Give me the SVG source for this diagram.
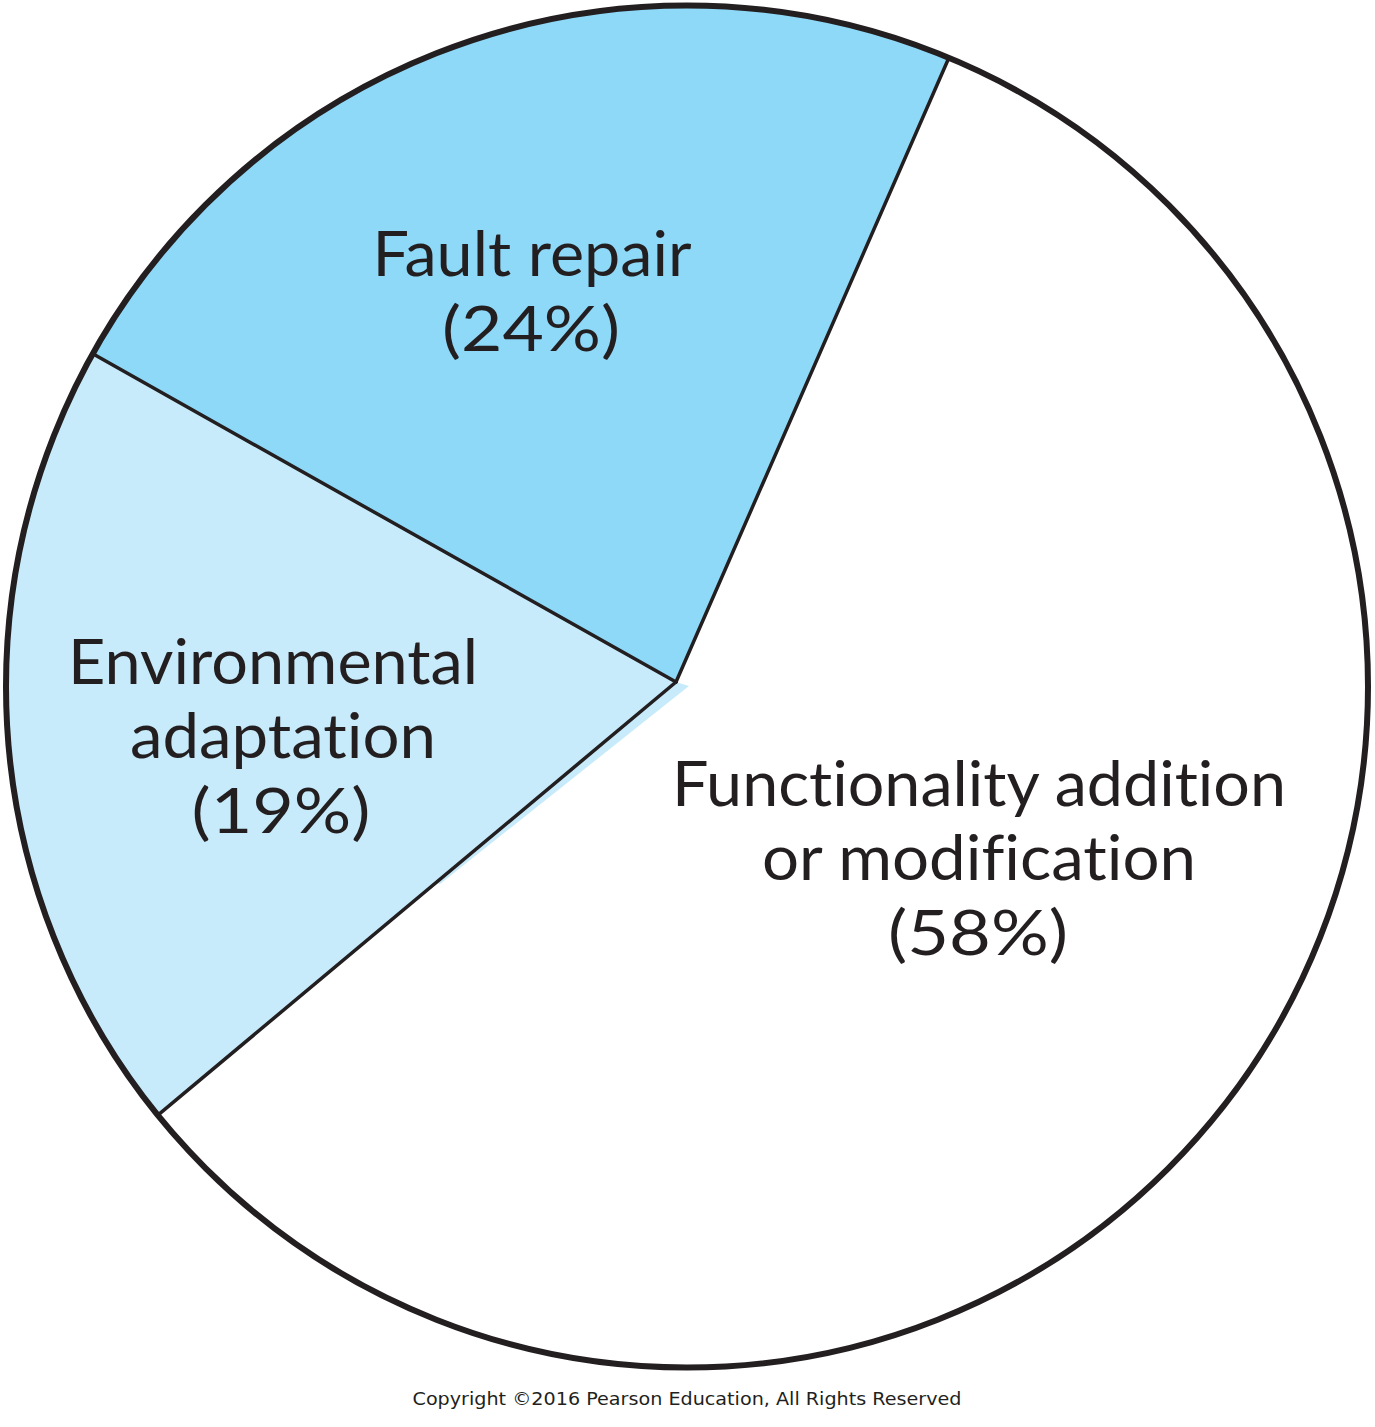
<svg xmlns="http://www.w3.org/2000/svg" width="1375" height="1427" viewBox="0 0 1375 1427">
<style>
.lbl{font-family:Lato,"Open Sans","Liberation Sans",sans-serif;font-size:62px;fill:#231f20;text-anchor:middle;font-variant-ligatures:none;font-feature-settings:"liga" 0,"dlig" 0}
.copy{font-family:"DejaVu Sans","Liberation Sans",sans-serif;font-size:18px;fill:#231f20;text-anchor:middle}
.div{stroke:#231f20;stroke-width:3.5;fill:none;stroke-linecap:round}
</style>
<rect x="0" y="0" width="1375" height="1427" fill="#ffffff"/>
<g id="functionality">
<circle cx="687" cy="686.5" r="681" fill="#ffffff"/>
<text class="lbl" x="979" y="806" textLength="614" lengthAdjust="spacingAndGlyphs">Functionality addition</text>
<text class="lbl" x="979" y="880" textLength="434" lengthAdjust="spacingAndGlyphs">or modification</text>
<text class="lbl" x="978" y="955" textLength="180" lengthAdjust="spacingAndGlyphs">(58%)</text>
</g>
<g id="fault-repair">
<path d="M676,682 L92.8,353.8 A681,681 0 0 1 948.9,57.8 Z" fill="#8ed8f8"/>
<text class="lbl" x="532" y="276" textLength="319" lengthAdjust="spacingAndGlyphs">Fault repair</text>
<text class="lbl" x="531" y="351" textLength="178" lengthAdjust="spacingAndGlyphs">(24%)</text>
</g>
<g id="environmental">
<path d="M676,682 L157.9,1115.1 A681,681 0 0 1 92.8,353.8 Z" fill="#c8ebfb"/>
<polygon points="676,682 689,686 440,884 432,882" fill="#c8ebfb"/>
<text class="lbl" x="273" y="684" textLength="410" lengthAdjust="spacingAndGlyphs">Environmental</text>
<text class="lbl" x="283" y="758" textLength="306" lengthAdjust="spacingAndGlyphs">adaptation</text>
<text class="lbl" x="281" y="833" textLength="179" lengthAdjust="spacingAndGlyphs">(19%)</text>
</g>
<g id="connectors">
<line class="div" x1="676" y1="682" x2="948.9" y2="57.8"/>
<line class="div" x1="676" y1="682" x2="92.8" y2="353.8"/>
<line class="div" x1="676" y1="682" x2="157.9" y2="1115.1"/>
<circle cx="687" cy="686.5" r="681" fill="none" stroke="#231f20" stroke-width="6"/>
</g>
<text class="copy" x="687" y="1405" textLength="549" lengthAdjust="spacingAndGlyphs">Copyright ©2016 Pearson Education, All Rights Reserved</text>
</svg>
